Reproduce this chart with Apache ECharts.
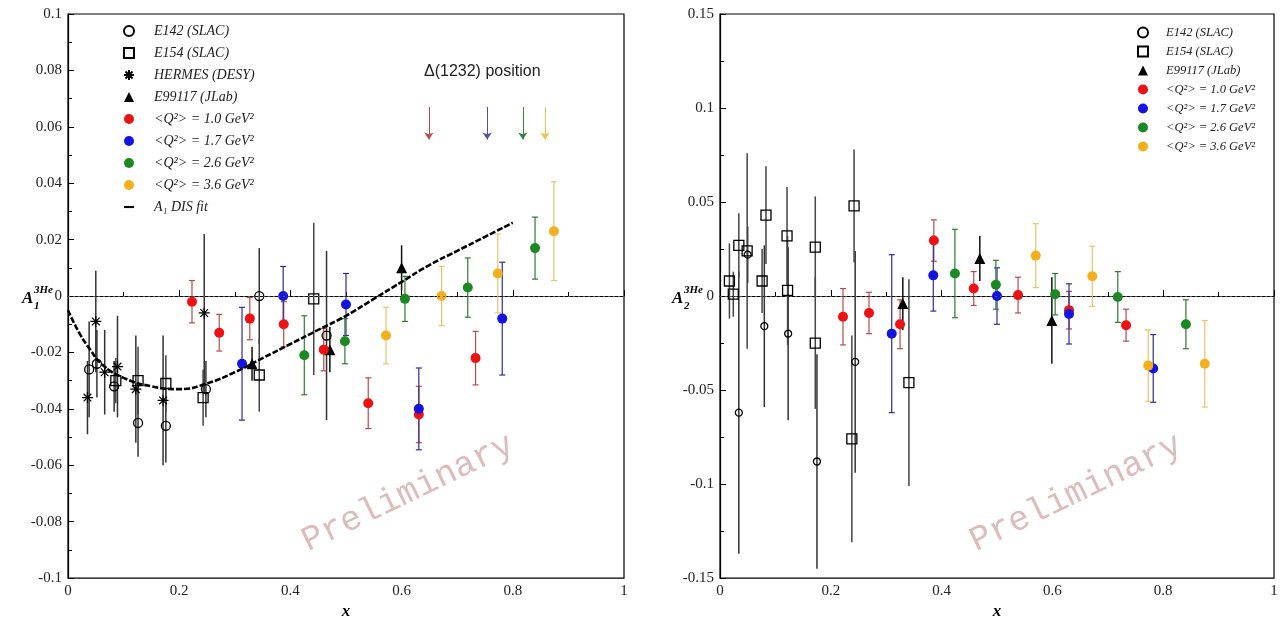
<!DOCTYPE html>
<html>
<head>
<meta charset="utf-8">
<title>A1 / A2 3He</title>
<script src="https://cdn.jsdelivr.net/npm/echarts@6/dist/echarts.min.js"></script>
<style>
  html, body { margin: 0; padding: 0; background: #fff; }
  #main { width: 1282px; height: 625px; }
</style>
</head>
<body>
<div id="main"></div>
<script>
// each point: [x, value, error]
// ---- left plot: A1 ----
var e142L = [[0.038, -0.026, 0.017], [0.052, -0.024, 0.012], [0.083, -0.032, 0.009], [0.126, -0.045, 0.012],
  [0.176, -0.046, 0.013], [0.248, -0.033, 0.010], [0.344, 0.000, 0.017], [0.465, -0.014, 0.030]];
var e154L = [[0.086, -0.030, 0.008], [0.126, -0.030, 0.012], [0.176, -0.031, 0.010], [0.243, -0.036, 0.010],
  [0.344, -0.028, 0.013], [0.442, -0.001, 0.027]];
var hermesL = [[0.035, -0.036, 0.013], [0.050, -0.009, 0.018], [0.066, -0.027, 0.015], [0.089, -0.025, 0.018],
  [0.122, -0.033, 0.019], [0.171, -0.037, 0.023], [0.245, -0.006, 0.028]];
var e99117L = [[0.331, -0.024, 0.006], [0.471, -0.019, 0.008], [0.600, 0.010, 0.008]];
var q10L = [[0.223, -0.002, 0.0075], [0.272, -0.013, 0.0065], [0.327, -0.008, 0.0075], [0.388, -0.010, 0.008],
  [0.460, -0.019, 0.0075], [0.540, -0.038, 0.009], [0.631, -0.042, 0.010], [0.733, -0.022, 0.0095]];
var q17L = [[0.313, -0.024, 0.020], [0.387, 0.000, 0.0105], [0.500, -0.003, 0.011], [0.631, -0.040, 0.0145],
  [0.781, -0.008, 0.020]];
var q26L = [[0.425, -0.021, 0.014], [0.498, -0.016, 0.008], [0.606, -0.001, 0.008], [0.719, 0.003, 0.0105],
  [0.840, 0.017, 0.011]];
var q36L = [[0.572, -0.014, 0.010], [0.672, 0.000, 0.0105], [0.773, 0.008, 0.014], [0.874, 0.023, 0.0175]];

// A1 DIS fit curve
var fitX = [0, 0.02, 0.04, 0.06, 0.1, 0.15, 0.2, 0.25, 0.3, 0.35, 0.4, 0.45, 0.5, 0.55, 0.6, 0.65, 0.7, 0.75, 0.8];
var fitY = [-0.005, -0.013, -0.019, -0.024, -0.029, -0.032, -0.033, -0.031, -0.027, -0.022, -0.017, -0.012,
  -0.007, -0.001, 0.005, 0.011, 0.016, 0.021, 0.026];

// Delta(1232) arrows
var deltaX = [0.649, 0.754, 0.818, 0.858];
var arrowTop = 0.067, arrowBottom = 0.0555;
var arrowColors = ['#c0474a', '#5050a8', '#3f7f3f', '#e8c24a'];

// ---- right plot: A2 ----
var e142R = [[0.034, -0.062, 0.075], [0.050, 0.022, 0.015], [0.080, -0.016, 0.043], [0.123, -0.020, 0.046],
  [0.175, -0.088, 0.057], [0.244, -0.035, 0.059]];
var e154R = [[0.017, 0.008, 0.020], [0.024, 0.001, 0.012], [0.034, 0.027, 0.017], [0.049, 0.024, 0.052],
  [0.076, 0.008, 0.017], [0.083, 0.043, 0.026], [0.121, 0.032, 0.026], [0.122, 0.003, 0.029],
  [0.172, 0.026, 0.027], [0.172, -0.025, 0.035], [0.242, 0.048, 0.030], [0.238, -0.076, 0.055],
  [0.341, -0.046, 0.055]];
var e99117R = [[0.330, -0.004, 0.014], [0.469, 0.020, 0.012], [0.599, -0.013, 0.023]];
var q10R = [[0.222, -0.011, 0.015], [0.269, -0.009, 0.011], [0.325, -0.015, 0.013], [0.386, 0.0295, 0.011],
  [0.458, 0.004, 0.009], [0.538, 0.0005, 0.0095], [0.630, -0.0075, 0.010], [0.733, -0.0155, 0.0085]];
var q17R = [[0.310, -0.020, 0.042], [0.385, 0.011, 0.019], [0.500, 0.000, 0.015], [0.630, -0.0095, 0.016],
  [0.782, -0.0385, 0.018]];
var q26R = [[0.424, 0.012, 0.0235], [0.498, 0.006, 0.013], [0.605, 0.001, 0.011], [0.718, -0.0005, 0.0135],
  [0.841, -0.015, 0.013]];
var q36R = [[0.570, 0.0215, 0.017], [0.672, 0.0105, 0.016], [0.773, -0.037, 0.019], [0.875, -0.036, 0.023]];

var serif = 'Liberation Serif';
var starPath = 'path://M0,5L10,5M5,0L5,10M1.5,1.5L8.5,8.5M8.5,1.5L1.5,8.5';

// names
var N142 = 'E142 (SLAC)', N154 = 'E154 (SLAC)', NHER = 'HERMES (DESY)', N991 = 'E99117 (JLab)';
var NQ1 = '<Q²> = 1.0 GeV²', NQ2 = '<Q²> = 1.7 GeV²', NQ3 = '<Q²> = 2.6 GeV²', NQ4 = '<Q²> = 3.6 GeV²';
var NFIT = 'A₁ DIS fit';

// 误差棒（custom）
function errBars(data, gi, color, caps, width) {
  return {
    type: 'custom',
    xAxisIndex: gi,
    yAxisIndex: gi,
    silent: true,
    z: 2,
    data: data,
    encode: { x: 0, y: 1 },
    renderItem: function (params, api) {
      var x = api.value(0), y = api.value(1), e = api.value(2);
      var top = api.coord([x, y + e]);
      var bot = api.coord([x, y - e]);
      var st = { stroke: color, lineWidth: width };
      var kids = [{ type: 'line', shape: { x1: top[0], y1: top[1], x2: bot[0], y2: bot[1] }, style: st }];
      if (caps) {
        kids.push({ type: 'line', shape: { x1: top[0] - 3, y1: top[1], x2: top[0] + 3, y2: top[1] }, style: st });
        kids.push({ type: 'line', shape: { x1: bot[0] - 3, y1: bot[1], x2: bot[0] + 3, y2: bot[1] }, style: st });
      }
      return { type: 'group', children: kids };
    }
  };
}

function points(name, data, gi, symbol, size, itemStyle) {
  return {
    type: 'scatter',
    name: name,
    xAxisIndex: gi,
    yAxisIndex: gi,
    z: 3,
    symbol: symbol,
    symbolSize: size,
    data: data,
    encode: { x: 0, y: 1 },
    itemStyle: itemStyle
  };
}

var hollow = { color: 'rgba(0,0,0,0)', borderColor: '#000', borderWidth: 1.3, opacity: 1 };
var starStyle = { color: 'rgba(0,0,0,0)', borderColor: '#000', borderWidth: 1.2, opacity: 1 };
var cRed = { color: '#ee1111', opacity: 1 }, cBlue = { color: '#1414e0', opacity: 1 };
var cGreen = { color: '#1c8a22', opacity: 1 }, cOrange = { color: '#f4b01c', opacity: 1 };

function blackAndColor(gi, sets) {
  var out = [];
  sets.forEach(function (s) {
    out.push(errBars(s.data, gi, s.bar, s.caps, s.caps ? 1.2 : 1.5));
    out.push(points(s.name, s.data, gi, s.symbol, s.size, s.style));
  });
  return out;
}

var leftSets = [
  { name: N142, data: e142L, symbol: 'circle', size: 9, style: hollow, bar: '#333', caps: false },
  { name: N154, data: e154L, symbol: 'rect', size: 10, style: hollow, bar: '#444', caps: false },
  { name: NHER, data: hermesL, symbol: starPath, size: 11, style: starStyle, bar: '#333', caps: false },
  { name: N991, data: e99117L, symbol: 'triangle', size: 11, style: { color: '#000', opacity: 1 }, bar: '#111', caps: false },
  { name: NQ1, data: q10L, symbol: 'circle', size: 10, style: cRed, bar: '#b84a4a', caps: true },
  { name: NQ2, data: q17L, symbol: 'circle', size: 10, style: cBlue, bar: '#2c2c9c', caps: true },
  { name: NQ3, data: q26L, symbol: 'circle', size: 10, style: cGreen, bar: '#2f7a31', caps: true },
  { name: NQ4, data: q36L, symbol: 'circle', size: 10, style: cOrange, bar: '#e6c467', caps: true }
];
var rightSets = [
  { name: N142, data: e142R, symbol: 'circle', size: 7, style: hollow, bar: '#333', caps: false },
  { name: N154, data: e154R, symbol: 'rect', size: 10, style: hollow, bar: '#444', caps: false },
  { name: N991, data: e99117R, symbol: 'triangle', size: 11, style: { color: '#000', opacity: 1 }, bar: '#111', caps: false },
  { name: NQ1, data: q10R, symbol: 'circle', size: 10, style: cRed, bar: '#b84a4a', caps: true },
  { name: NQ2, data: q17R, symbol: 'circle', size: 10, style: cBlue, bar: '#2c2c9c', caps: true },
  { name: NQ3, data: q26R, symbol: 'circle', size: 10, style: cGreen, bar: '#2f7a31', caps: true },
  { name: NQ4, data: q36R, symbol: 'circle', size: 10, style: cOrange, bar: '#e6c467', caps: true }
];

var zeroLine = {
  silent: true, symbol: 'none', label: { show: false },
  lineStyle: { type: [2, 3], color: '#555', width: 1 },
  data: [{ yAxis: 0 }]
};

var series = [];
// fit curve + zero line + arrows
series.push({
  type: 'line',
  name: NFIT,
  xAxisIndex: 0,
  yAxisIndex: 0,
  z: 4,
  smooth: true,
  symbol: 'none',
  color: '#000',
  data: fitX.map(function (x, i) { return [x, fitY[i]]; }),
  lineStyle: { color: '#000', width: 2.6, type: [6, 2] },
  markLine: zeroLine
});
series.push({
  type: 'line',
  name: 'delta',
  xAxisIndex: 0,
  yAxisIndex: 0,
  data: [],
  markLine: {
    silent: true,
    symbol: ['none', 'arrow'],
    symbolSize: 7,
    label: { show: false },
    data: deltaX.map(function (x, i) {
      return [
        { coord: [x, arrowTop], lineStyle: { color: arrowColors[i], width: 1, type: 'solid' } },
        { coord: [x, arrowBottom] }
      ];
    })
  }
});
series = series.concat(blackAndColor(0, leftSets));
var rightPts = blackAndColor(1, rightSets);
rightPts[1].markLine = zeroLine;
series = series.concat(rightPts);

function xAx(gi) {
  return {
    gridIndex: gi, type: 'value', min: 0, max: 1, interval: 0.2,
    name: 'x', nameLocation: 'middle', nameGap: 23,
    nameTextStyle: { fontFamily: serif, fontStyle: 'italic', fontWeight: 'bold', fontSize: 17, color: '#000' },
    axisLine: { lineStyle: { color: '#000', width: 1.2 } },
    axisTick: { inside: true, length: 6, lineStyle: { color: '#000' } },
    minorTick: { show: true, splitNumber: 2, length: 4, lineStyle: { color: '#000' } },
    axisLabel: { fontFamily: serif, fontSize: 15, color: '#222', margin: 5 },
    splitLine: { show: false }
  };
}
function yAx(gi, min, max, step) {
  return {
    gridIndex: gi, type: 'value', min: min, max: max, interval: step,
    axisLine: { lineStyle: { color: '#000', width: 1.2 } },
    axisTick: { inside: true, length: 6, lineStyle: { color: '#000' } },
    minorTick: { show: true, splitNumber: 2, length: 4, lineStyle: { color: '#000' } },
    axisLabel: { fontFamily: serif, fontSize: 15, color: '#222', margin: 6 },
    splitLine: { show: false }
  };
}

var option = {
  backgroundColor: '#fff',
  animation: false,
  grid: [
    { left: 68, top: 14, width: 556, height: 569, show: true, borderColor: '#000', borderWidth: 1.2 },
    { left: 720, top: 14, width: 554, height: 569, show: true, borderColor: '#000', borderWidth: 1.2 }
  ],
  xAxis: [xAx(0), xAx(1)],
  yAxis: [yAx(0, -0.1, 0.1, 0.02), yAx(1, -0.15, 0.15, 0.05)],
  legend: [
    {
      orient: 'vertical', left: 118, top: 19, itemWidth: 10, itemHeight: 10, itemGap: 8,
      selectedMode: false,
      textStyle: { fontFamily: serif, fontStyle: 'italic', fontSize: 14, color: '#222', padding: [0, 0, 0, 15] },
      data: [N142, N154, NHER, N991, NQ1, NQ2, NQ3, NQ4,
        { name: NFIT, icon: 'path://M0,0L14,0L14,3L0,3Z' }]
    },
    {
      orient: 'vertical', left: 1132, top: 21, itemWidth: 10, itemHeight: 10, itemGap: 6,
      selectedMode: false,
      textStyle: { fontFamily: serif, fontStyle: 'italic', fontSize: 12.5, color: '#222', padding: [0, 0, 0, 13] },
      data: [N142, N154, N991, NQ1, NQ2, NQ3, NQ4]
    }
  ],
  graphic: [
    { type: 'text', left: 424, top: 64, style: { text: 'Δ(1232) position', font: '16px "Liberation Sans"', fill: '#222' } },
    // y axis titles
    { type: 'text', x: 22, y: 290, style: { text: 'A', font: 'italic bold 17px "Liberation Serif"', fill: '#000' } },
    { type: 'text', x: 34, y: 301, style: { text: '1', font: 'italic bold 11px "Liberation Serif"', fill: '#000' } },
    { type: 'text', x: 34, y: 285, style: { text: '3He', font: 'italic bold 11px "Liberation Serif"', fill: '#000' } },
    { type: 'text', x: 672, y: 290, style: { text: 'A', font: 'italic bold 17px "Liberation Serif"', fill: '#000' } },
    { type: 'text', x: 684, y: 301, style: { text: '2', font: 'italic bold 11px "Liberation Serif"', fill: '#000' } },
    { type: 'text', x: 684, y: 285, style: { text: '3He', font: 'italic bold 11px "Liberation Serif"', fill: '#000' } },
    // watermark
    { type: 'text', x: 408, y: 493, rotation: 0.45, z: 0,
      style: { text: 'Preliminary', font: '35px "Liberation Mono"', fill: '#dcbcbc', align: 'center', verticalAlign: 'middle' } },
    { type: 'text', x: 1076, y: 493, rotation: 0.45, z: 0,
      style: { text: 'Preliminary', font: '35px "Liberation Mono"', fill: '#dcbcbc', align: 'center', verticalAlign: 'middle' } }
  ],
  series: series
};

var chart = echarts.init(document.getElementById('main'));
chart.setOption(option);
</script>
</body>
</html>
